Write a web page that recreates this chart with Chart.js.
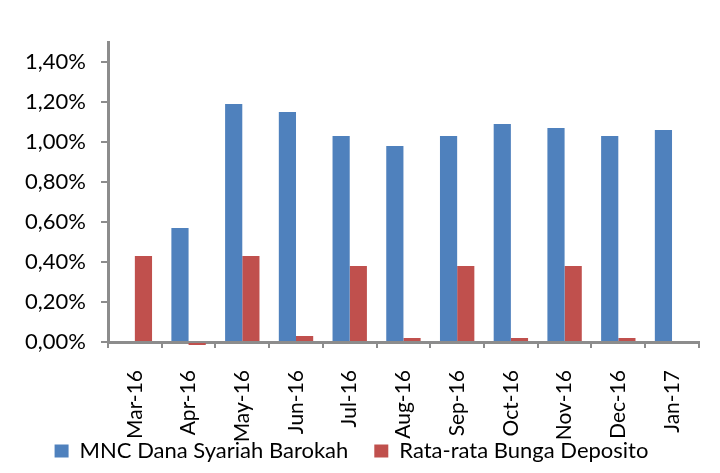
<!DOCTYPE html>
<html>
<head>
<meta charset="utf-8">
<script src="https://cdn.jsdelivr.net/npm/chart.js@4/dist/chart.umd.min.js"></script>
<style>
  html, body { margin: 0; padding: 0; background: #fff; }
  #wrap { width: 720px; height: 473px; position: relative; }
</style>
</head>
<body>
<div id="wrap"><canvas id="chart"></canvas></div>
<script>
// --- DATA ---
const months = ['Mar-16', 'Apr-16', 'May-16', 'Jun-16', 'Jul-16', 'Aug-16',
                'Sep-16', 'Oct-16', 'Nov-16', 'Dec-16', 'Jan-17'];
const danaSyariah = [null, 0.57, 1.19, 1.15, 1.03, 0.98, 1.03, 1.09, 1.07, 1.03, 1.06];
const bungaDeposito = [0.43, -0.015, 0.43, 0.03, 0.38, 0.02, 0.38, 0.02, 0.38, 0.02, null];
const yTicks = [0, 0.2, 0.4, 0.6, 0.8, 1.0, 1.2, 1.4];

const axisColor = '#8c8c8c';
const fontFamily = 'Lato, "Open Sans", sans-serif';

// legend sits partly over the rotated month labels, like in the original
const legendPlacer = {
    id: 'legendPlacer',
    beforeInit(chart) {
        const legend = chart.legend;
        if (!legend) return;
        const fit = legend.fit.bind(legend);
        legend.fit = function () { fit(); this.height = 16; };
    },
    afterLayout(chart) {
        const legend = chart.legend;
        if (!legend) return;
        legend.top = 414;
        legend.bottom = 473;
        legend.height = 59;
    }
};

new Chart(document.getElementById('chart'), {
    type: 'bar',
    data: {
        labels: months,
        datasets: [{
            label: 'MNC Dana Syariah Barokah',
            data: danaSyariah,
            backgroundColor: '#4f81bd',
            categoryPercentage: 0.64,
            barPercentage: 1.0,
            clip: false
        }, {
            label: 'Rata-rata Bunga Deposito',
            data: bungaDeposito,
            backgroundColor: '#c0504d',
            categoryPercentage: 0.64,
            barPercentage: 1.0,
            clip: false
        }]
    },
    options: {
        responsive: true,
        maintainAspectRatio: false,
        animation: false,
        layout: { padding: { top: 42, right: 17, left: 0, bottom: 0 } },
        scales: {
            x: {
                grid: { drawOnChartArea: false, drawTicks: true, tickLength: 6, color: axisColor, lineWidth: 2 },
                border: { color: axisColor, width: 3 },
                afterFit: (axis) => { axis.height = 115; },
                ticks: {
                    color: '#000',
                    font: { family: fontFamily, size: 21 },
                    minRotation: 90, maxRotation: 90,
                    padding: 22
                }
            },
            y: {
                min: 0,
                max: 1.5,
                grid: { drawOnChartArea: false, drawTicks: true, tickLength: 7, color: axisColor, lineWidth: 2 },
                border: { color: axisColor, width: 3 },
                afterBuildTicks: (axis) => { axis.ticks = yTicks.map(v => ({ value: v })); },
                afterFit: (axis) => { axis.width = 108; },
                ticks: {
                    color: '#000',
                    font: { family: fontFamily, size: 22 },
                    padding: 15,
                    callback: (v) => v.toFixed(2).replace('.', ',') + '%'
                }
            }
        },
        plugins: {
            legend: {
                position: 'bottom',
                labels: {
                    color: '#000',
                    font: { family: fontFamily, size: 22 },
                    boxWidth: 14,
                    boxHeight: 13,
                    padding: 26
                }
            },
            tooltip: { enabled: false }
        }
    },
    plugins: [legendPlacer]
});
</script>
</body>
</html>
